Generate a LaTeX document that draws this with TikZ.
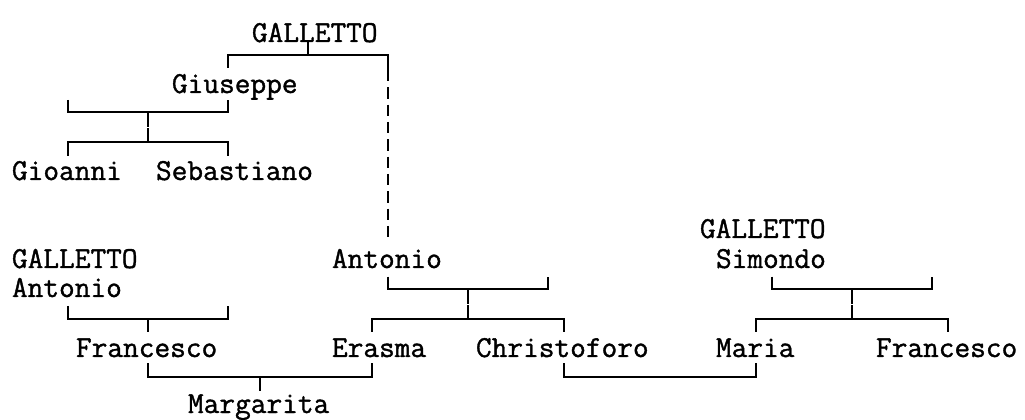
\documentclass[tikz,border=0pt]{standalone}
\usepackage{fontspec}
\newfontfamily\namefont{Latin Modern Mono}[FakeBold=1.2]
\usetikzlibrary{calc}
\tikzset{
  person/.style={anchor=base west,inner sep=0pt,outer sep=0pt,
    font=\namefont\fontsize{22.86}{26}\selectfont},
  link/.style={line width=1.5pt,line cap=butt},
  hidden/.style={link,dash pattern=on 8.5 off 4.5}
}

\begin{document}
\begin{tikzpicture}[x=0.75pt,y=-0.75pt]
\useasboundingbox (0,0) rectangle (1025,420);
% names
\node[person] (galletto) at (252,42) {GALLETTO};
\node[person] (giuseppe) at (172,93) {Giuseppe};
\node[person] (gioanni) at (12,180) {Gioanni};
\node[person] (sebastiano) at (156,180) {Sebastiano};
\node[person] (gallettoA) at (12,268) {GALLETTO};
\node[person] (antonioA) at (12,297) {Antonio};
\node[person] (francescoA) at (76,357) {Francesco};
\node[person] (margarita) at (188,413) {Margarita};
\node[person] (antonio) at (332,268) {Antonio};
\node[person] (erasma) at (332,357) {Erasma};
\node[person] (christoforo) at (476,357) {Christoforo};
\node[person] (gallettoS) at (700,238) {GALLETTO};
\node[person] (simondo) at (716,268) {Simondo};
\node[person] (maria) at (716,357) {Maria};
\node[person] (francescoS) at (876,357) {Francesco};
% bracket points
\coordinate (h1) at (308,55);  \coordinate (t1) at (308,42);
\coordinate (l1) at (228,68);  \coordinate (r1) at (388,70);
\coordinate (d1) at (388,243);
\coordinate (h2) at (148,112.5); \coordinate (l2) at (68,100); \coordinate (r2) at (228,100);
\coordinate (h3) at (148,142.5); \coordinate (l3) at (68,156); \coordinate (r3) at (228,156);
\coordinate (h4) at (468,289.3); \coordinate (l4) at (388,276.7); \coordinate (r4) at (548,276.7);
\coordinate (h5) at (468,319);   \coordinate (l5) at (372,331.7); \coordinate (r5) at (564,331.7);
\coordinate (h6) at (660,377.3); \coordinate (l6) at (564,363.3); \coordinate (r6) at (756,363.3);
\coordinate (h7) at (148,319);   \coordinate (l7) at (68,306);    \coordinate (r7) at (228,306);
\coordinate (t7) at (148,331.7);
\coordinate (h8) at (260,377.3); \coordinate (l8) at (148,363.3); \coordinate (r8) at (372,363.3);
\coordinate (t8) at (260,390.7);
\coordinate (h9) at (852,289.3); \coordinate (l9) at (772,276.7); \coordinate (r9) at (932,276.7);
\coordinate (h10) at (852,319);  \coordinate (l10) at (756,331.7); \coordinate (r10) at (948,331.7);
% brackets
\draw[link] (l1) |- (h1) -| (r1);
\draw[link] (h1) -- (t1);
\draw[hidden] (r1) -- (d1);
\draw[link] (l2) |- (h2) -| (r2);
\draw[link] (l3) |- (h3) -| (r3);
\draw[link] (h2) -- ($(h2)!.48!(h3)$);
\draw[link] ($(h2)!.53!(h3)$) -- (h3);
\draw[link] (l4) |- (h4) -| (r4);
\draw[link] (l5) |- (h5) -| (r5);
\draw[link] (h4) -- ($(h4)!.48!(h5)$);
\draw[link] ($(h4)!.53!(h5)$) -- (h5);
\draw[link] (l6) |- (h6) -| (r6);
\draw[link] (l7) |- (h7) -| (r7);
\draw[link] (h7) -- (t7);
\draw[link] (l8) |- (h8) -| (r8);
\draw[link] (h8) -- (t8);
\draw[link] (l9) |- (h9) -| (r9);
\draw[link] (l10) |- (h10) -| (r10);
\draw[link] (h9) -- ($(h9)!.48!(h10)$);
\draw[link] ($(h9)!.53!(h10)$) -- (h10);
\end{tikzpicture}
\end{document}
